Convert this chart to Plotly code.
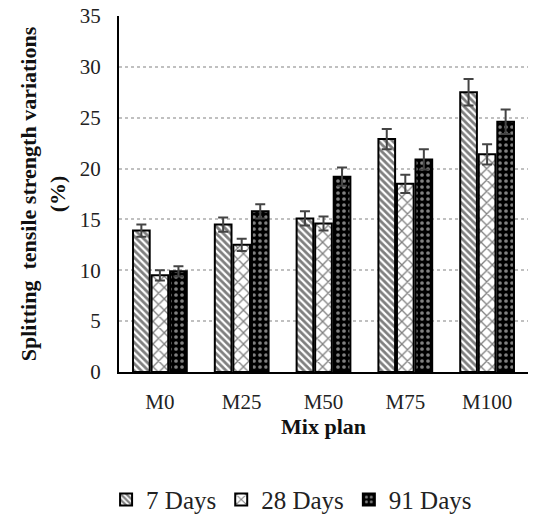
import plotly.graph_objects as go

categories = ["M0", "M25", "M50", "M75", "M100"]
series_names = ["7 Days", "28 Days", "91 Days"]
d7 = [13.9, 14.5, 15.1, 22.9, 27.5]
d28 = [9.5, 12.5, 14.6, 18.5, 21.4]
d91 = [9.9, 15.8, 19.2, 20.9, 24.6]
e7 = [0.6, 0.7, 0.7, 1.0, 1.3]
e28 = [0.5, 0.6, 0.7, 0.9, 1.0]
e91 = [0.5, 0.7, 0.9, 1.0, 1.2]

font_family = "Liberation Serif, Times New Roman, serif"
patterns = [
    dict(shape="\\", fgcolor="black", bgcolor="white", size=5, solidity=0.55),
    dict(shape="x", fgcolor="black", bgcolor="white", size=8, solidity=0.3),
    dict(shape=".", fgcolor="white", bgcolor="black", size=6, solidity=0.3),
]

fig = go.Figure()
for name, vals, errs, pat in zip(series_names, [d7, d28, d91], [e7, e28, e91], patterns):
    fig.add_trace(go.Bar(
        x=categories, y=vals, name=name,
        marker=dict(color=pat["bgcolor"], pattern=pat, line=dict(color="black", width=2)),
        error_y=dict(type="data", array=errs, visible=True, color="#444444", thickness=2, width=5),
    ))

fig.update_layout(
    width=535, height=526,
    margin=dict(l=119, r=7, t=16, b=154, autoexpand=False),
    plot_bgcolor="white", paper_bgcolor="white",
    barmode="group", bargap=0.32, bargroupgap=0.1,
    font=dict(family=font_family, color="#222222", size=21),
    showlegend=True,
    legend=dict(orientation="h", xref="container", x=0.545, xanchor="center",
                yref="container", y=0.05, yanchor="middle",
                font=dict(size=25, family=font_family, color="#222222"),
                itemwidth=30, traceorder="normal"),
)
fig.update_yaxes(
    range=[0, 35], dtick=5, showline=True, linecolor="black", linewidth=2,
    showgrid=True, gridcolor="#c0c0c0", griddash="dot", gridwidth=1.5,
    ticks="", ticklabelstandoff=12,
    tickfont=dict(size=21, family=font_family, color="#222222"),
    zeroline=False,
    title=dict(text="<b>Splitting  tensile strength variations<br>(%)</b>",
               font=dict(size=22, family=font_family, color="#111111"), standoff=8),
)
fig.update_xaxes(
    showline=True, linecolor="black", linewidth=2, ticks="", ticklabelstandoff=10,
    tickfont=dict(size=21, family=font_family, color="#222222"),
    title=dict(text="<b>Mix plan</b>", font=dict(size=22, family=font_family, color="#111111"), standoff=4),
)

fig.write_html("out.html")
